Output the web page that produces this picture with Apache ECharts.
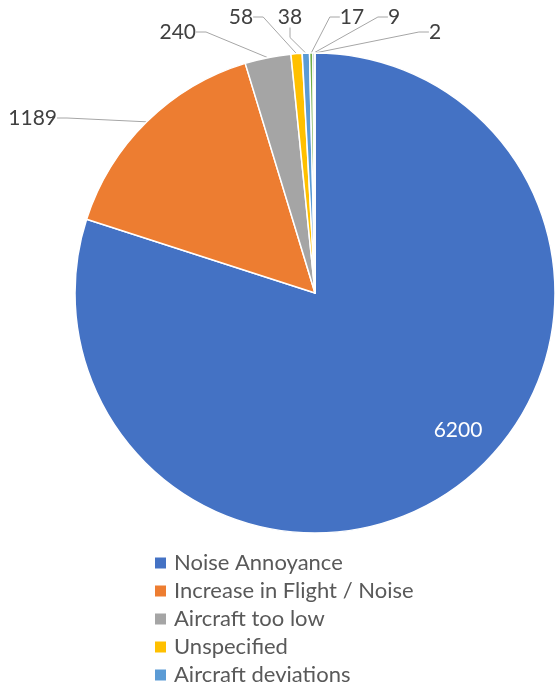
<!DOCTYPE html>
<html><head><meta charset="utf-8">
<script src="https://cdn.jsdelivr.net/npm/echarts@6/dist/echarts.min.js"></script>
<style>html,body{margin:0;padding:0;background:#fff;}#c{width:555px;height:690px;}</style>
</head><body><div id="c"></div>
<script>
const categories = ['Noise Annoyance','Increase in Flight / Noise','Aircraft too low','Unspecified','Aircraft deviations','Ground noise','Helicopters','Other'];
const values = [6200, 1189, 240, 58, 38, 17, 9, 2];
const colors = ['#4472C4','#ED7D31','#A5A5A5','#FFC000','#5B9BD5','#70AD47','#264478','#9E480E'];
// label placement (layout only)
const labelPlace = [
  {x:458, y:430, align:'center'},
  {x:57,  y:118, align:'right'},
  {x:196, y:32,  align:'right'},
  {x:241, y:17,  align:'center'},
  {x:290, y:17,  align:'center'},
  {x:352, y:17,  align:'center'},
  {x:394, y:17,  align:'center'},
  {x:435, y:32,  align:'center'}
];
const FONT = 'Lato';
const chart = echarts.init(document.getElementById('c'), null, {renderer:'canvas'});
const data = categories.map((n,i)=>{
  const d = {name:n, value:values[i], itemStyle:{color:colors[i]}};
  if (i===0) { d.label = {color:'#ffffff'}; d.labelLine = {show:false}; }
  return d;
});
chart.setOption({
  animation:false,
  legend:{
    orient:'vertical', left:153, top:549, height:400, padding:0,
    itemWidth:13, itemHeight:13, itemGap:0,
    icon:'rect',
    textStyle:{fontFamily:FONT, fontSize:22, color:'#595959', lineHeight:28, padding:[0,0,0,2]},
    data:categories
  },
  series:[{
    type:'pie', center:[315,293], radius:[0,240], startAngle:90, clockwise:true,
    avoidLabelOverlap:false,
    itemStyle:{borderColor:'#ffffff', borderWidth:1.5},
    label:{show:true, position:'outside', formatter:'{c}', fontFamily:FONT, fontSize:21, color:'#404040'},
    labelLine:{show:true, length:10, length2:10, lineStyle:{color:'#A6A6A6', width:1}},
    labelLayout:function(p){
      const l = labelPlace[p.dataIndex];
      return {x:l.x, y:l.y, align:l.align, verticalAlign:'middle'};
    },
    emphasis:{disabled:true},
    data:data
  }]
});
</script></body></html>
